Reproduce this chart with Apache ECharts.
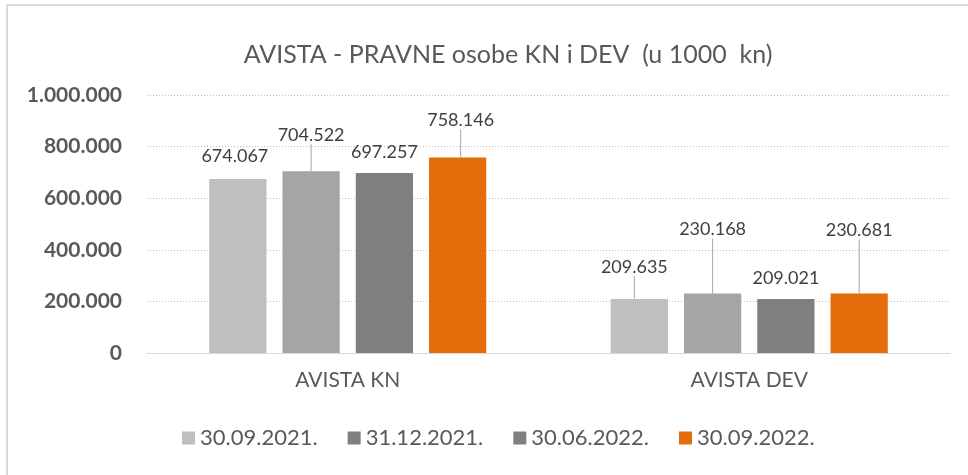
<!DOCTYPE html>
<html>
<head>
<meta charset="utf-8">
<script src="https://cdn.jsdelivr.net/npm/echarts@6/dist/echarts.min.js"></script>
<style>
  html, body { margin: 0; padding: 0; background: #fff; }
  #chart { width: 968px; height: 475px; }
</style>
</head>
<body>
<div id="chart"></div>
<script>
const categories = ['AVISTA KN', 'AVISTA DEV']
const seriesNames = ['30.09.2021.', '31.12.2021.', '30.06.2022.', '30.09.2022.']
const values = [
  [674067, 209635],
  [704522, 230168],
  [697257, 209021],
  [758146, 230681],
]
const yTicks = [0, 200000, 400000, 600000, 800000, 1000000]

const barColors = ['#bfbfbf', '#a5a5a5', '#7f7f7f', '#e46c0a']
const legendColors = ['#bfbfbf', '#808080', '#808080', '#e46c0a']
// label shifts [dx, dy] per series / category, the way the labels were dragged in the original
const labelShift = [
  [[-3, -9], [-5, -18]],
  [[0, -22], [0, -50]],
  [[0, -7], [0, -7]],
  [[3, -23], [0, -49]],
]
// leader lines only where the original shows them
const showLine = [
  [false, true],
  [true, true],
  [false, false],
  [true, true],
]

const fmt = (v) => String(v).replace(/\B(?=(\d{3})+(?!\d))/g, '.')
const font = 'Lato, "Open Sans", sans-serif'

const chart = echarts.init(document.getElementById('chart'))
chart.setOption({
  textStyle: { fontFamily: font },
  animation: false,
  title: {
    text: 'AVISTA - PRAVNE osobe KN i DEV  (u 1000  kn)',
    left: 503,
    textAlign: 'center',
    top: 37,
    textStyle: { fontSize: 25, fontWeight: 'normal', color: '#595959', fontFamily: font },
  },
  legend: {
    left: 177,
    top: 422,
    itemWidth: 13,
    itemHeight: 13,
    itemGap: 30,
    icon: 'rect',
    textStyle: { fontSize: 22, color: '#595959', fontFamily: font },
    data: seriesNames.map((n, i) => ({ name: n, itemStyle: { color: legendColors[i] } })),
  },
  graphic: [
    { type: 'line', shape: { x1: 7, y1: 5, x2: 968, y2: 5 }, style: { stroke: '#d9d9d9', lineWidth: 2 } },
    { type: 'line', shape: { x1: 7, y1: 5, x2: 7, y2: 475 }, style: { stroke: '#d9d9d9', lineWidth: 2 } },
  ],
  grid: { left: 147, right: 18, top: 95, bottom: 122, containLabel: false },
  xAxis: {
    type: 'category',
    data: categories,
    axisTick: { show: false },
    axisLine: { lineStyle: { color: '#d9d9d9', width: 1 } },
    axisLabel: { fontSize: 21, color: '#595959', margin: 17, fontFamily: font },
  },
  yAxis: {
    type: 'value',
    min: yTicks[0],
    max: yTicks[yTicks.length - 1],
    interval: 200000,
    axisLine: { show: false },
    axisTick: { show: false },
    axisLabel: {
      fontSize: 21,
      fontWeight: 'bold',
      color: '#595959',
      margin: 25,
      fontFamily: font,
      formatter: (v) => fmt(v),
    },
    splitLine: { lineStyle: { color: '#bfbfbf', type: [1, 2], width: 1 } },
  },
  series: seriesNames.map((name, i) => ({
    name,
    type: 'bar',
    data: values[i].map((v, j) => ({ value: v, labelLine: { show: showLine[i][j] } })),
    barGap: '28%',
    barCategoryGap: '31%',
    itemStyle: { color: barColors[i] },
    label: {
      show: true,
      position: 'top',
      distance: 5,
      fontSize: 18,
      color: '#404040',
      fontFamily: font,
      formatter: (p) => fmt(p.value),
    },
    labelLine: { show: true, lineStyle: { color: '#a6a6a6', width: 1 } },
    labelLayout: (p) => {
      const s = labelShift[p.seriesIndex][p.dataIndex]
      return { dx: s[0], dy: s[1] }
    },
  })),
})
</script>
</body>
</html>
